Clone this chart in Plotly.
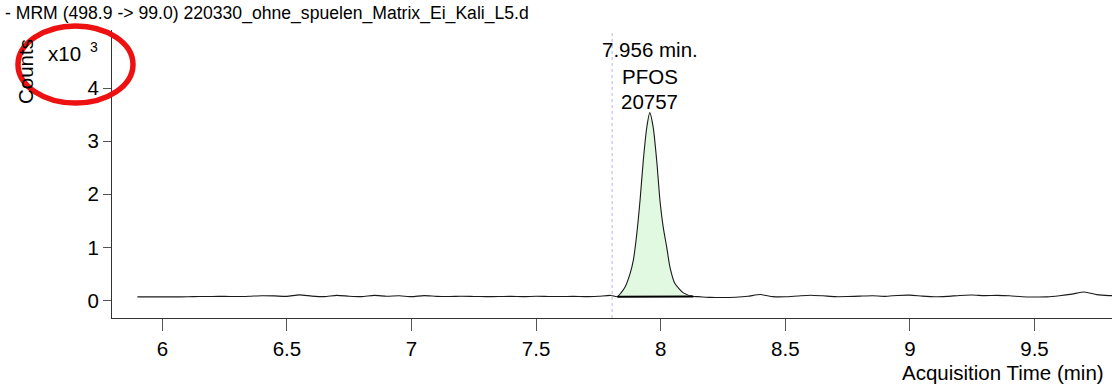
import plotly.graph_objects as go

# Acquisition time (min) and detector counts of the MRM trace
times = [
    5.90, 5.95, 6.00, 6.05, 6.10, 6.15, 6.20, 6.25, 6.30, 6.35,
    6.40, 6.45, 6.50, 6.55, 6.60, 6.65, 6.70, 6.75, 6.80, 6.85,
    6.90, 6.95, 7.00, 7.05, 7.10, 7.15, 7.20, 7.25, 7.30, 7.35,
    7.40, 7.45, 7.50, 7.55, 7.60, 7.65, 7.70, 7.75, 7.80,
    7.826, 7.840, 7.857, 7.877, 7.890, 7.904, 7.917, 7.930, 7.944, 7.956,
    7.970, 7.984, 7.997, 8.010, 8.024, 8.037, 8.057, 8.091, 8.131,
    8.15, 8.20, 8.25, 8.30, 8.35, 8.40, 8.45, 8.50, 8.55, 8.60,
    8.65, 8.70, 8.75, 8.80, 8.85, 8.90, 8.95, 9.00, 9.05, 9.10,
    9.15, 9.20, 9.25, 9.30, 9.35, 9.40, 9.45, 9.50, 9.55, 9.60,
    9.65, 9.70, 9.75, 9.80, 9.82,
]
counts = [
    68, 68, 68, 68, 70, 75, 76, 78, 74, 80,
    90, 86, 78, 105, 82, 72, 96, 80, 72, 96,
    80, 88, 72, 92, 78, 74, 80, 76, 72, 74,
    78, 72, 80, 76, 74, 78, 72, 80, 95,
    70, 140, 255, 507, 756, 1257, 1882, 2632, 3257, 3537,
    3257, 2632, 1882, 1381, 1006, 630, 319, 143, 75,
    72, 58, 55, 62, 80, 112, 72, 70, 85, 99,
    88, 72, 74, 82, 88, 78, 95, 100, 82, 70,
    78, 95, 102, 92, 96, 88, 70, 66, 68, 90,
    120, 160, 110, 92, 90,
]

# Integrated peak
peak_start = 7.826
peak_end = 8.131
peak_rt = 7.956
peak_name = "PFOS"
peak_area = 20757
marker_time = 7.805

title_text = "- MRM (498.9 -> 99.0) 220330_ohne_spuelen_Matrix_Ei_Kali_L5.d"
x_ticks = [6, 6.5, 7, 7.5, 8, 8.5, 9, 9.5]
y_ticks = [0, 1, 2, 3, 4]

FONT = "Liberation Sans, Arial, sans-serif"

kcounts = [c / 1000 for c in counts]
peak_idx = [i for i, t in enumerate(times) if peak_start <= t <= peak_end]
pk_t = [times[i] for i in peak_idx]
pk_y = [kcounts[i] for i in peak_idx]

fig = go.Figure()

# shaded integrated area (polygon closes along the integration baseline)
fig.add_trace(go.Scatter(
    x=pk_t, y=pk_y, mode="lines", fill="toself",
    fillcolor="#e1f8e1", line=dict(width=0, shape="spline", smoothing=0.6),
    hoverinfo="skip",
))
# chromatogram trace
fig.add_trace(go.Scatter(
    x=times, y=kcounts, mode="lines",
    line=dict(color="#1a1a1a", width=1.1, shape="spline", smoothing=0.6),
))
# integration baseline
fig.add_trace(go.Scatter(
    x=[pk_t[0], pk_t[-1]], y=[pk_y[0], pk_y[-1]], mode="lines",
    line=dict(color="#000000", width=2),
))

# peak start marker line
fig.add_shape(type="line", xref="x", yref="paper",
              x0=marker_time, x1=marker_time, y0=0, y1=1,
              line=dict(color="#b4b4ec", width=1, dash="dot"))

# peak labels
label_font = dict(family=FONT, size=20.5, color="#000")
for txt, ypix in [(f"{peak_rt:.3f} min.", 49), (peak_name, 76), (str(peak_area), 101)]:
    fig.add_annotation(x=peak_rt, xref="x", y=(318 - ypix) / 288, yref="paper",
                       text=txt, showarrow=False, font=label_font,
                       xanchor="center", yanchor="middle")

# title
fig.add_annotation(x=(3 - 112) / 1000, xref="paper", y=(318 - 13) / 288, yref="paper",
                   text=title_text, showarrow=False, xanchor="left", yanchor="middle",
                   font=dict(family=FONT, size=17.6, color="#000"))

# axis titles and multiplier
fig.add_annotation(x=(1106 - 112) / 1000, xref="paper", y=(318 - 372) / 288, yref="paper",
                   text="Acquisition Time (min)", showarrow=False,
                   xanchor="right", yanchor="middle",
                   font=dict(family=FONT, size=20.5, color="#000"))
fig.add_annotation(x=(25 - 112) / 1000, xref="paper", y=(318 - 72) / 288, yref="paper",
                   text="Counts", textangle=-90, showarrow=False,
                   xanchor="center", yanchor="middle",
                   font=dict(family=FONT, size=20.5, color="#000"))
fig.add_annotation(x=(64 - 112) / 1000, xref="paper", y=(318 - 53) / 288, yref="paper",
                   text="x10", showarrow=False, xanchor="center", yanchor="middle",
                   font=dict(family=FONT, size=20.5, color="#000"))
fig.add_annotation(x=(94 - 112) / 1000, xref="paper", y=(318 - 47.5) / 288, yref="paper",
                   text="3", showarrow=False, xanchor="center", yanchor="middle",
                   font=dict(family=FONT, size=14, color="#000"))

# red highlight ellipse
fig.add_shape(type="circle", xref="paper", yref="paper",
              x0=(18 - 112) / 1000, x1=(133 - 112) / 1000,
              y0=(318 - 103) / 288, y1=(318 - 26) / 288,
              line=dict(color="#ee1111", width=5.5))

fig.update_layout(
    width=1112, height=387,
    margin=dict(l=112, r=0, t=30, b=69),
    paper_bgcolor="white", plot_bgcolor="white",
    showlegend=False,
    font=dict(family=FONT, size=20.5, color="#000"),
    xaxis=dict(
        range=[5.798, 9.811], tickvals=x_ticks,
        ticktext=[f"{v:g}" for v in x_ticks],
        showgrid=False, zeroline=False,
        showline=True, linecolor="#333", linewidth=1.2,
        ticks="outside", ticklen=12, tickcolor="#555", tickwidth=1.2,
        tickfont=dict(family=FONT, size=20.5, color="#000"),
    ),
    yaxis=dict(
        range=[-0.330, 5.094], tickvals=y_ticks,
        ticktext=[str(v) for v in y_ticks],
        showgrid=False, zeroline=False,
        showline=True, linecolor="#333", linewidth=1.2,
        ticks="outside", ticklen=8, tickcolor="#555", tickwidth=1.2,
        tickfont=dict(family=FONT, size=20.5, color="#000"),
    ),
)

fig.write_html("out.html")
